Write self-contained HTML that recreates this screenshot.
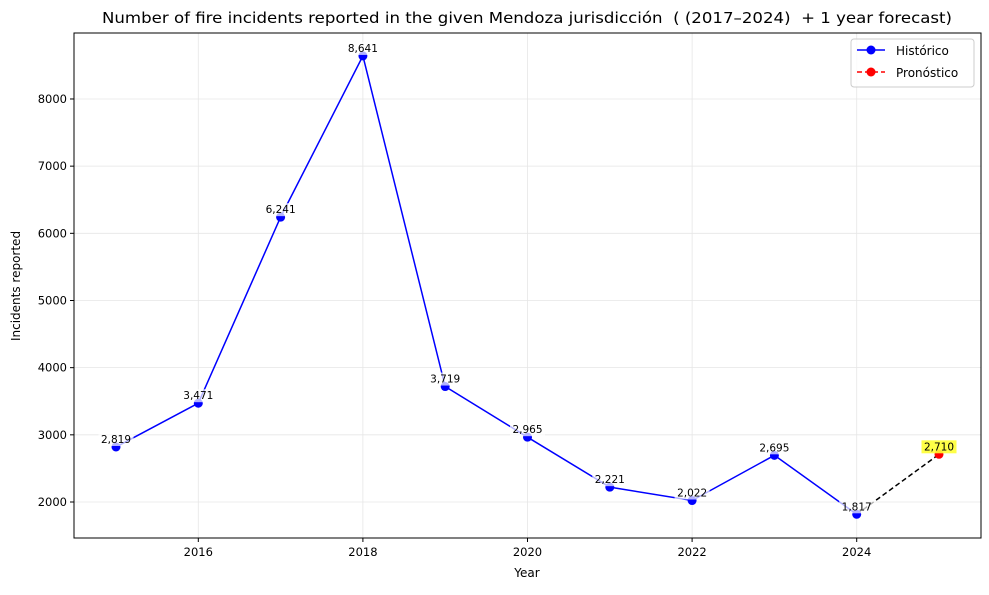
<!DOCTYPE html>
<html><head><meta charset="utf-8"><style>
body{margin:0;background:#fff;}
svg{font-family:"DejaVu Sans","Liberation Sans",sans-serif;}
text{white-space:pre;}
</style></head><body>
<svg id="chart" width="989" height="590" xmlns="http://www.w3.org/2000/svg">
<rect width="989" height="590" fill="#fff"/>
<g id="grid"></g>
<g id="marks"></g>
<rect x="74" y="33" width="907" height="505" fill="none" stroke="#000" stroke-width="1"/>
<g id="axes"></g>
<text x="102" y="23" font-size="15.5" textLength="850" lengthAdjust="spacingAndGlyphs">Number of fire incidents reported in the given Mendoza jurisdicción  ( (2017–2024)  + 1 year forecast)</text>
<text x="527" y="577" text-anchor="middle" font-size="12">Year</text>
<text transform="translate(20,286) rotate(-90)" text-anchor="middle" font-size="12">Incidents reported</text>
<g>
<rect x="851" y="39" width="123" height="48" fill="#fff" fill-opacity="0.8" stroke="#ccc" rx="3"/>
<g>
<line x1="857" y1="50" x2="885" y2="50" stroke="blue" stroke-width="1.5"/><circle cx="871" cy="50" r="4.5" fill="blue"/>
<text x="896" y="55" font-size="12">Histórico</text></g>
<g>
<line x1="857" y1="72" x2="885" y2="72" stroke="red" stroke-width="1.5" stroke-dasharray="5,3"/><circle cx="871" cy="72" r="4.5" fill="red"/>
<text x="896" y="77" font-size="12">Pronóstico</text></g>
</g>
</svg>
<script>
const years=[2015,2016,2017,2018,2019,2020,2021,2022,2023,2024];
const values=[2819,3471,6241,8641,3719,2965,2221,2022,2695,1817];
const forecastYears=[2025];
const forecastValues=[2710];
const xTicks=[2016,2018,2020,2022,2024];
const yTicks=[2000,3000,4000,5000,6000,7000,8000];
const NS="http://www.w3.org/2000/svg";
const x=v=>116+(v-2015)*82.3;
const y=v=>502-(v-2000)*0.06717;
function mk(t,a,p){const e=document.createElementNS(NS,t);for(const k in a)e.setAttribute(k,a[k]);p.appendChild(e);return e;}
const grid=document.getElementById('grid'),axes=document.getElementById('axes'),marks=document.getElementById('marks');
xTicks.forEach(t=>{
 const g=mk('line',{x1:x(t),x2:x(t),y1:33,y2:538,stroke:'#e6e6e6','stroke-width':0.8},grid);
 
 
 mk('line',{x1:x(t),x2:x(t),y1:538,y2:542,stroke:'#000'},axes);
 const l=mk('text',{x:x(t),y:556,'text-anchor':'middle','font-size':11.5},axes);l.textContent=t;
 
 
});
yTicks.forEach(t=>{
 const g=mk('line',{x1:74,x2:981,y1:y(t),y2:y(t),stroke:'#e6e6e6','stroke-width':0.8},grid);
 
 
 mk('line',{x1:70,x2:74,y1:y(t),y2:y(t),stroke:'#000'},axes);
 const l=mk('text',{x:67,y:y(t)+4,'text-anchor':'end','font-size':11.5},axes);l.textContent=t;
 
 
});
const n=years.length;
const dl=mk('line',{x1:x(years[n-1]),y1:y(values[n-1]),x2:x(forecastYears[0]),y2:y(forecastValues[0]),stroke:'#000','stroke-width':1.5,'stroke-dasharray':'5,3'},marks);


const pl=mk('polyline',{points:years.map((yr,i)=>x(yr)+','+y(values[i])).join(' '),fill:'none',stroke:'blue','stroke-width':1.5},marks);


function label(cx,cy,v,bg,op){
 const s=v.toLocaleString('en-US');
 const w=s.length*6.6+2;
 mk('rect',{x:cx-w/2,y:cy-14,width:w,height:13,fill:bg,'fill-opacity':op},marks);
 const t=mk('text',{x:cx,y:cy-4,'text-anchor':'middle','font-size':10.5},marks);t.textContent=s;
 
 
}
years.forEach((yr,i)=>{
 const c=mk('circle',{cx:x(yr),cy:y(values[i]),r:4.5,fill:'blue'},marks);
 
 
 label(x(yr),y(values[i]),values[i],'#fff',0.7);
});
forecastYears.forEach((yr,i)=>{
 const c=mk('circle',{cx:x(yr),cy:y(forecastValues[i]),r:4.5,fill:'red'},marks);
 
 
 label(x(yr),y(forecastValues[i]),forecastValues[i],'#ffff33',0.9);
});
</script>
</body></html>
